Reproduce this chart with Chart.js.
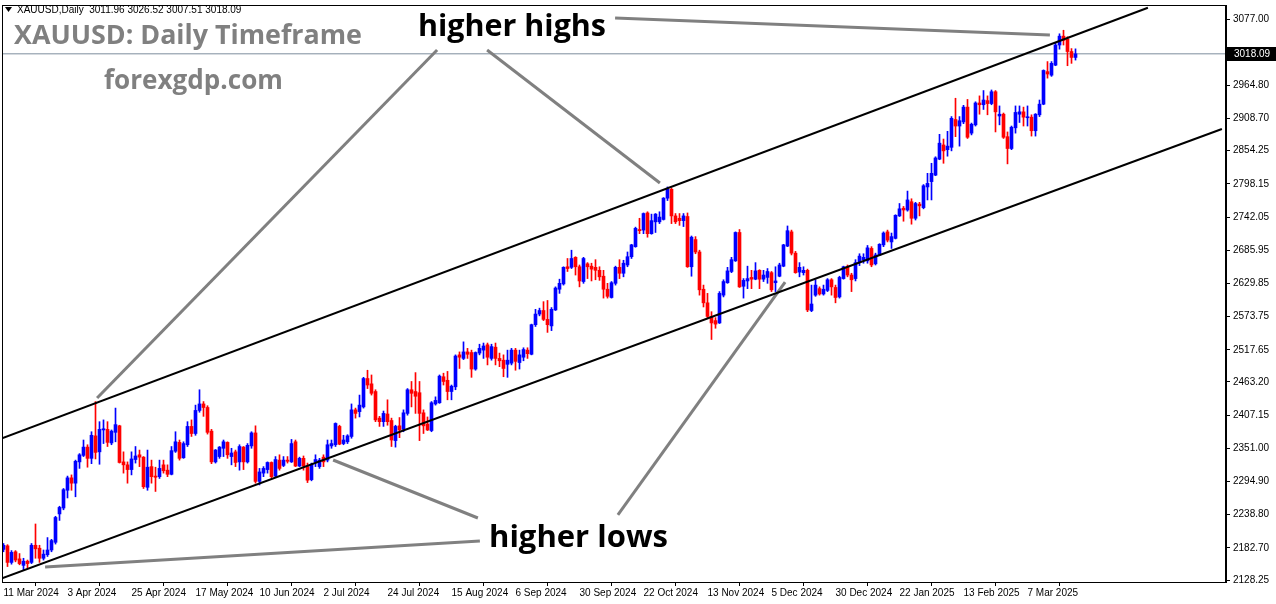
<!DOCTYPE html>
<html>
<head>
<meta charset="utf-8">
<script src="https://cdn.jsdelivr.net/npm/chart.js@4.4.1/dist/chart.umd.min.js"></script>
<style>
  html, body { margin: 0; padding: 0; background: #fff; }
  canvas { display: block; }
</style>
</head>
<body>
<canvas id="myChart" width="1276" height="604"></canvas>
<script>
// XAUUSD daily bars, 11 Mar 2024 .. 25 Mar 2025 (bar index = position in the arrays)
const opens = [
  2180, 2186, 2158, 2176, 2164, 2153, 2160, 2158, 2187, 2182, 2165, 2171, 2179, 2192, 2240, 2250, 2280, 2301, 2292, 2328,
  2339, 2353, 2334, 2372, 2345, 2382, 2383, 2360, 2378, 2389, 2328, 2323, 2315, 2332, 2340, 2336, 2285, 2320, 2304, 2303,
  2323, 2314, 2307, 2346, 2361, 2335, 2357, 2388, 2376, 2415, 2426, 2420, 2380, 2328, 2337, 2351, 2361, 2337, 2345, 2328,
  2353, 2328, 2355, 2377, 2295, 2309, 2315, 2327, 2304, 2331, 2322, 2331, 2328, 2362, 2321, 2334, 2320, 2298, 2328, 2320,
  2336, 2331, 2355, 2357, 2388, 2359, 2362, 2371, 2416, 2413, 2421, 2469, 2460, 2447, 2402, 2396, 2409, 2398, 2364, 2389,
  2383, 2410, 2450, 2447, 2445, 2411, 2392, 2381, 2426, 2428, 2472, 2466, 2447, 2455, 2509, 2503, 2514, 2513, 2485, 2512,
  2517, 2526, 2503, 2522, 2503, 2500, 2493, 2495, 2517, 2496, 2505, 2517, 2510, 2560, 2578, 2584, 2569, 2558, 2585, 2620,
  2629, 2658, 2657, 2674, 2658, 2633, 2663, 2659, 2657, 2652, 2642, 2620, 2606, 2630, 2657, 2647, 2661, 2675, 2692, 2721,
  2720, 2749, 2714, 2734, 2734, 2738, 2774, 2789, 2744, 2740, 2736, 2743, 2658, 2704, 2683, 2620, 2597, 2574, 2567, 2563,
  2610, 2631, 2650, 2668, 2716, 2625, 2634, 2640, 2637, 2652, 2637, 2640, 2648, 2631, 2642, 2659, 2693, 2717, 2681, 2649,
  2648, 2652, 2584, 2610, 2621, 2612, 2618, 2636, 2623, 2607, 2638, 2658, 2644, 2638, 2665, 2670, 2668, 2689, 2663, 2678,
  2695, 2717, 2700, 2706, 2744, 2757, 2754, 2768, 2740, 2764, 2758, 2793, 2802, 2813, 2840, 2864, 2856, 2860, 2907, 2896,
  2903, 2928, 2884, 2898, 2935, 2932, 2939, 2934, 2954, 2913, 2916, 2878, 2858, 2893, 2916, 2920, 2910, 2911, 2888, 2915,
  2933, 2988, 2982, 2999, 3033, 3048, 3043, 3022, 3011.96
];
const highs = [
  2190, 2188, 2178, 2178, 2173, 2165, 2162, 2190, 2223, 2187, 2179, 2200, 2197, 2236, 2253, 2283, 2304, 2306, 2331, 2342,
  2365, 2357, 2379, 2430, 2396, 2399, 2396, 2382, 2419, 2390, 2345, 2328, 2345, 2354, 2348, 2337, 2348, 2331, 2319, 2331,
  2331, 2323, 2354, 2379, 2365, 2362, 2396, 2399, 2424, 2450, 2430, 2423, 2383, 2349, 2354, 2365, 2362, 2351, 2348, 2357,
  2354, 2359, 2379, 2389, 2317, 2320, 2328, 2328, 2337, 2340, 2337, 2337, 2366, 2365, 2336, 2338, 2326, 2326, 2340, 2334,
  2340, 2365, 2365, 2394, 2390, 2373, 2374, 2426, 2419, 2441, 2471, 2483, 2475, 2450, 2405, 2414, 2433, 2402, 2390, 2403,
  2416, 2452, 2464, 2479, 2464, 2416, 2404, 2430, 2438, 2475, 2478, 2481, 2458, 2509, 2514, 2531, 2520, 2517, 2514, 2527,
  2529, 2529, 2527, 2529, 2512, 2509, 2517, 2520, 2520, 2517, 2521, 2521, 2561, 2586, 2588, 2599, 2601, 2589, 2624, 2637,
  2658, 2672, 2686, 2675, 2661, 2674, 2665, 2664, 2670, 2658, 2652, 2630, 2633, 2659, 2670, 2669, 2683, 2696, 2725, 2740,
  2749, 2751, 2747, 2748, 2751, 2775, 2793, 2791, 2748, 2748, 2748, 2749, 2710, 2709, 2686, 2627, 2613, 2582, 2572, 2616,
  2636, 2657, 2674, 2717, 2721, 2638, 2659, 2652, 2665, 2653, 2652, 2655, 2650, 2658, 2664, 2696, 2727, 2720, 2684, 2665,
  2658, 2654, 2627, 2636, 2624, 2627, 2638, 2638, 2627, 2642, 2659, 2661, 2647, 2670, 2680, 2680, 2694, 2692, 2681, 2697,
  2717, 2720, 2715, 2746, 2765, 2760, 2786, 2773, 2767, 2767, 2797, 2816, 2833, 2844, 2882, 2874, 2887, 2912, 2943, 2912,
  2931, 2941, 2901, 2937, 2947, 2956, 2947, 2957, 2956, 2930, 2918, 2886, 2896, 2930, 2930, 2928, 2930, 2915, 2917, 2940,
  2991, 3005, 3005, 3036, 3052, 3058, 3047, 3027, 3026.52
];
const lows = [
  2176, 2151, 2155, 2159, 2154, 2145, 2148, 2156, 2165, 2158, 2162, 2168, 2176, 2189, 2229, 2247, 2267, 2280, 2269, 2317,
  2337, 2319, 2325, 2333, 2324, 2359, 2354, 2357, 2362, 2326, 2309, 2292, 2306, 2326, 2320, 2283, 2280, 2292, 2278, 2300,
  2309, 2303, 2306, 2344, 2331, 2334, 2354, 2371, 2373, 2412, 2405, 2375, 2325, 2326, 2334, 2337, 2334, 2323, 2320, 2314,
  2315, 2326, 2351, 2292, 2289, 2303, 2309, 2300, 2302, 2314, 2320, 2326, 2327, 2320, 2320, 2314, 2293, 2296, 2320, 2317,
  2320, 2328, 2351, 2354, 2357, 2357, 2359, 2368, 2402, 2404, 2419, 2452, 2441, 2396, 2388, 2388, 2390, 2354, 2353, 2369,
  2379, 2407, 2421, 2410, 2364, 2376, 2381, 2379, 2424, 2427, 2458, 2433, 2433, 2450, 2486, 2501, 2503, 2471, 2483, 2509,
  2503, 2492, 2500, 2492, 2489, 2472, 2471, 2492, 2483, 2485, 2499, 2503, 2509, 2557, 2575, 2567, 2547, 2550, 2584, 2613,
  2627, 2650, 2655, 2644, 2624, 2630, 2638, 2634, 2636, 2635, 2605, 2605, 2605, 2627, 2638, 2641, 2658, 2672, 2691, 2714,
  2714, 2708, 2713, 2716, 2731, 2737, 2770, 2731, 2731, 2728, 2726, 2657, 2642, 2680, 2610, 2590, 2571, 2535, 2554, 2562,
  2607, 2630, 2648, 2667, 2623, 2605, 2621, 2621, 2636, 2621, 2633, 2630, 2616, 2616, 2641, 2658, 2692, 2678, 2647, 2641,
  2644, 2582, 2582, 2608, 2610, 2610, 2616, 2610, 2597, 2605, 2637, 2641, 2616, 2634, 2660, 2664, 2664, 2658, 2661, 2677,
  2692, 2700, 2689, 2705, 2743, 2735, 2752, 2730, 2737, 2744, 2756, 2771, 2771, 2812, 2839, 2833, 2845, 2854, 2878, 2862,
  2900, 2875, 2881, 2896, 2916, 2924, 2915, 2932, 2886, 2898, 2875, 2832, 2856, 2884, 2902, 2896, 2896, 2879, 2879, 2912,
  2932, 2977, 2980, 2998, 3026, 3033, 2998, 3002, 3007.51
];
const closes = [
  2187, 2158, 2175, 2162, 2156, 2160, 2156, 2187, 2181, 2165, 2172, 2179, 2195, 2234, 2251, 2281, 2301, 2292, 2329, 2340,
  2353, 2334, 2373, 2344, 2383, 2384, 2361, 2380, 2391, 2327, 2323, 2315, 2333, 2338, 2336, 2286, 2319, 2303, 2302, 2317,
  2313, 2307, 2347, 2362, 2334, 2359, 2388, 2376, 2415, 2426, 2420, 2378, 2328, 2348, 2353, 2362, 2340, 2343, 2327, 2354,
  2328, 2356, 2377, 2295, 2311, 2317, 2327, 2303, 2332, 2317, 2331, 2329, 2359, 2321, 2334, 2321, 2297, 2324, 2332, 2331,
  2328, 2357, 2359, 2393, 2358, 2365, 2372, 2416, 2410, 2424, 2469, 2458, 2444, 2399, 2396, 2410, 2396, 2365, 2388, 2382,
  2411, 2450, 2444, 2439, 2410, 2389, 2382, 2428, 2432, 2473, 2464, 2447, 2456, 2507, 2505, 2514, 2510, 2485, 2513, 2520,
  2524, 2505, 2523, 2503, 2499, 2486, 2500, 2517, 2498, 2509, 2518, 2511, 2560, 2578, 2584, 2569, 2560, 2586, 2622, 2630,
  2657, 2655, 2672, 2658, 2634, 2672, 2658, 2654, 2652, 2641, 2620, 2608, 2631, 2657, 2647, 2664, 2675, 2695, 2723, 2719,
  2748, 2714, 2736, 2747, 2742, 2774, 2789, 2744, 2734, 2736, 2744, 2658, 2708, 2683, 2619, 2597, 2574, 2563, 2561, 2613,
  2633, 2651, 2670, 2716, 2624, 2635, 2638, 2637, 2651, 2637, 2644, 2650, 2619, 2634, 2661, 2695, 2719, 2681, 2648, 2657,
  2652, 2585, 2595, 2627, 2612, 2620, 2636, 2624, 2606, 2640, 2658, 2644, 2636, 2665, 2676, 2674, 2690, 2661, 2678, 2696,
  2715, 2703, 2709, 2745, 2756, 2754, 2771, 2740, 2765, 2761, 2795, 2799, 2816, 2842, 2867, 2854, 2862, 2909, 2896, 2905,
  2928, 2877, 2899, 2935, 2932, 2940, 2934, 2954, 2920, 2916, 2877, 2858, 2894, 2919, 2920, 2911, 2911, 2888, 2916, 2933,
  2990, 2984, 3002, 3033, 3048, 3041, 3022, 3012, 3018.09
];

// time axis labels sit on every 16th bar
const dateTickBars = [0, 16, 32, 48, 64, 80, 96, 112, 128, 144, 160, 176, 192, 208, 224, 240, 256];
const dateTickLabels = ["11 Mar 2024", "3 Apr 2024", "25 Apr 2024", "17 May 2024", "10 Jun 2024", "2 Jul 2024",
  "24 Jul 2024", "15 Aug 2024", "6 Sep 2024", "30 Sep 2024", "22 Oct 2024", "13 Nov 2024", "5 Dec 2024",
  "30 Dec 2024", "22 Jan 2025", "13 Feb 2025", "7 Mar 2025"];
const priceTicks = [2128.25, 2182.70, 2238.80, 2294.90, 2351.00, 2407.15, 2463.20, 2517.65, 2573.75, 2629.85,
  2685.95, 2742.05, 2798.15, 2854.25, 2908.70, 2964.80, 3077.00];
const lastPrice = 3018.09;

// drawn objects: [bar, price] end points
const channelTop = [[-0.375, 2368], [286.1, 3096]];
const channelBottom = [[-0.375, 2131], [304.6, 2891]];
const pointerLines = [
  [[108.4, 3024.6], [23.4, 2436]],
  [[120.9, 3024.6], [164.1, 2799.7]],
  [[152.9, 3078.7], [261.6, 3049.9]],
  [[118.6, 2233.1], [82.4, 2331.2]],
  [[119.1, 2194.2], [10.4, 2150.2]],
  [[153.6, 2238.2], [195.4, 2632.2]]
];

const xMin = -0.375, xMax = 305.625;
const yMin = 2124.87, yMax = 3100.69;
const UP = '#0000ff', DOWN = '#ff0000';
const FONT = '"Liberation Sans", Arial, sans-serif';

const barColors = closes.map((c, i) => c >= opens[i] ? UP : DOWN);

function segment(pts, color, width, order) {
  return {
    type: 'line',
    data: pts.map(p => ({ x: p[0], y: p[1] })),
    borderColor: color,
    borderWidth: width,
    pointRadius: 0,
    fill: false,
    tension: 0,
    order: order
  };
}

function fitText(ctx, text, left, midY, width, weight, color) {
  ctx.font = weight + ' 100px "Open Sans", sans-serif';
  const w = ctx.measureText(text).width;
  ctx.font = weight + ' ' + (100 * width / w).toFixed(2) + 'px "Open Sans", sans-serif';
  ctx.fillStyle = color;
  ctx.textAlign = 'left';
  ctx.textBaseline = 'middle';
  ctx.fillText(text, left, midY);
}

// no extra label padding, so the plot box stays at 2..1226 x 5..582
function noPad(s) {
  s.paddingTop = 0;
  s.paddingBottom = 0;
  s.paddingLeft = 0;
  s.paddingRight = 0;
}

const overlay = {
  id: 'overlay',
  beforeDraw(chart) {
    const ctx = chart.ctx;
    ctx.save();
    ctx.fillStyle = '#fff';
    ctx.fillRect(0, 0, chart.width, chart.height);
    ctx.restore();
  },
  afterDraw(chart) {
    const { ctx, chartArea: a, scales } = chart;
    ctx.save();
    // plot frame
    ctx.strokeStyle = '#000';
    ctx.lineWidth = 1;
    ctx.strokeRect(a.left + 0.5, a.top + 0.5, a.right - a.left - 1, a.bottom - a.top);

    // last price box
    const py = Math.round(scales.y.getPixelForValue(lastPrice));
    ctx.fillStyle = '#000';
    ctx.fillRect(a.right + 1, py - 7, chart.width - a.right - 1, 14);
    ctx.fillStyle = '#fff';
    ctx.font = '10px ' + FONT;
    ctx.textBaseline = 'middle';
    ctx.textAlign = 'left';
    ctx.fillText(lastPrice.toFixed(2), a.right + 8, py + 0.5);

    // header line
    ctx.fillStyle = '#000';
    ctx.beginPath();
    ctx.moveTo(5, 7); ctx.lineTo(12, 7); ctx.lineTo(8.5, 12); ctx.closePath();
    ctx.fill();
    ctx.font = '10px ' + FONT;
    ctx.fillText('XAUUSD,Daily  3011.96 3026.52 3007.51 3018.09', 17, 10.5);

    // captions
    fitText(ctx, 'XAUUSD: Daily Timeframe', 14, 36, 348, 'bold', '#808080');
    fitText(ctx, 'forexgdp.com', 104, 82, 179, 'bold', '#808080');
    fitText(ctx, 'higher highs', 418, 27, 188, 'bold', '#000');
    fitText(ctx, 'higher lows', 489, 538, 179, 'bold', '#000');
    ctx.restore();
  }
};

const config = {
  type: 'bar',
  data: {
    datasets: [
      segment(channelTop, '#000', 2, 0),
      segment(channelBottom, '#000', 2, 0),
      ...pointerLines.map(p => segment(p, '#808080', 3, 0)),
      segment([[xMin, lastPrice], [xMax, lastPrice]], '#7d8d9d', 1, 9),
      {
        label: 'bodies',
        data: opens.map((o, i) => ({ x: i, y: [o, closes[i]] })),
        backgroundColor: barColors,
        barThickness: 3,
        minBarLength: 1,
        grouped: false,
        order: 2
      },
      {
        label: 'wicks',
        data: lows.map((l, i) => ({ x: i, y: [l, highs[i]] })),
        backgroundColor: barColors,
        barThickness: 1,
        grouped: false,
        order: 3
      }
    ]
  },
  options: {
    responsive: false,
    animation: false,
    layout: { padding: { left: 2, top: 5, right: 0, bottom: 0 } },
    plugins: {
      legend: { display: false },
      tooltip: { enabled: false },
      title: { display: false }
    },
    scales: {
      x: {
        type: 'linear',
        min: xMin,
        max: xMax,
        offset: false,
        bounds: 'data',
        grid: { drawOnChartArea: false, tickLength: 4, color: '#000' },
        border: { color: '#000' },
        afterBuildTicks: (s) => { s.ticks = dateTickBars.map(v => ({ value: v })); },
        afterFit: (s) => { s.height = 22; noPad(s); },
        ticks: {
          autoSkip: false,
          maxRotation: 0,
          align: 'start',
          padding: 1,
          color: '#000',
          font: { size: 10, family: FONT },
          callback: (v) => {
            const k = dateTickBars.indexOf(v);
            return k >= 0 ? dateTickLabels[k] : '';
          }
        }
      },
      y: {
        type: 'linear',
        position: 'right',
        min: yMin,
        max: yMax,
        bounds: 'data',
        grid: { drawOnChartArea: false, tickLength: 4, color: '#000' },
        border: { color: '#000' },
        afterBuildTicks: (s) => { s.ticks = priceTicks.map(v => ({ value: v })); },
        afterFit: (s) => { s.width = 50; noPad(s); },
        ticks: {
          autoSkip: false,
          padding: 3,
          color: '#000',
          font: { size: 10, family: FONT },
          callback: (v) => v.toFixed(2)
        }
      }
    }
  },
  plugins: [overlay]
};

document.addEventListener('DOMContentLoaded', () => {
  new Chart(document.getElementById('myChart'), config);
});
</script>
</body>
</html>
